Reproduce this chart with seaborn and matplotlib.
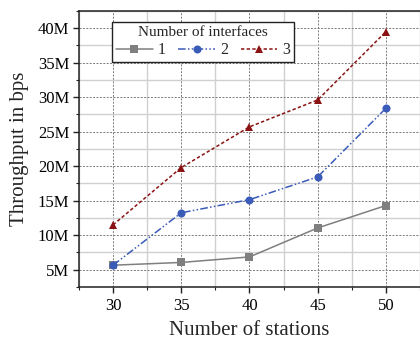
import matplotlib
matplotlib.use("Agg")
import matplotlib.pyplot as plt
import matplotlib.ticker as mticker
import seaborn as sns
import pandas as pd

stations = [30, 35, 40, 45, 50]
series_names = ["1", "2", "3"]
thr_1 = [5.65e6, 6.05e6, 6.85e6, 11.05e6, 14.3e6]
thr_2 = [5.65e6, 13.25e6, 15.15e6, 18.45e6, 28.4e6]
thr_3 = [11.5e6, 19.8e6, 25.7e6, 29.6e6, 39.5e6]
y_ticks = [5e6, 10e6, 15e6, 20e6, 25e6, 30e6, 35e6, 40e6]

rows = []
for name, vals in zip(series_names, [thr_1, thr_2, thr_3]):
    for s, v in zip(stations, vals):
        rows.append({"stations": s, "throughput": v, "interfaces": name})
df = pd.DataFrame(rows)

sns.set_style("white")
plt.rcParams['font.family'] = ['Liberation Serif', 'DejaVu Serif']

fig = plt.figure(figsize=(4.2, 3.42), dpi=100)
ax = fig.add_axes([0.188, 0.161, 0.812, 0.807])

palette = {"1": "#7f7f7f", "2": "#3a5bb8", "3": "#8b1212"}
markers = {"1": "s", "2": "o", "3": "^"}
dashes = {"1": "", "2": (5, 1.5, 1, 1.5, 1, 1.5), "3": (2.2, 1.5)}

sns.lineplot(data=df, x="stations", y="throughput", hue="interfaces",
             style="interfaces", palette=palette, markers=markers,
             dashes=dashes, linewidth=1.1, markersize=5.8,
             markeredgewidth=0, ax=ax, legend=False)

ax.set_xlim(27.5, 52.5)
ax.set_ylim(2.5e6, 42.5e6)
ax.set_xticks(stations)
ax.set_yticks(y_ticks)
ax.xaxis.set_minor_locator(mticker.MultipleLocator(2.5))
ax.yaxis.set_minor_locator(mticker.MultipleLocator(2.5e6))
ax.yaxis.set_major_formatter(mticker.FuncFormatter(lambda v, p: f"{v/1e6:.0f}M"))

ax.grid(True, which="minor", color="#d0d0d0", linewidth=1.0, linestyle="-", zorder=0)
ax.grid(True, which="major", color="#7a7a7a", linewidth=0.7, linestyle=(0, (2, 1.5)), zorder=0)
ax.set_axisbelow(True)

ax.tick_params(axis="both", which="major", direction="out", length=4, width=1,
               labelsize=12, color="#222222", labelcolor="black", pad=3,
               bottom=True, left=True)
ax.tick_params(axis="both", which="minor", direction="out", length=2.5, width=0.8,
               color="#222222", bottom=True, left=True)
ax.tick_params(axis="x", which="major", pad=4)

for side in ["left", "bottom", "top"]:
    ax.spines[side].set_visible(True)
    ax.spines[side].set_color("#222222")
    ax.spines[side].set_linewidth(1.1)
ax.spines["right"].set_visible(False)

ax.set_xlabel("Number of stations", fontsize=15, labelpad=5)
ax.set_ylabel("Throughput in bps", fontsize=15, labelpad=6)

from matplotlib.lines import Line2D
handles = []
for name in series_names:
    handles.append(Line2D([], [], color=palette[name], marker=markers[name],
                          linestyle="-" if dashes[name] == "" else (0, dashes[name]),
                          linewidth=1.1, markersize=5.8, markeredgewidth=0))
leg = ax.legend(handles, series_names, title="Number of interfaces", ncol=3,
                loc="upper left", bbox_to_anchor=(0.097, 0.96), fontsize=11.5,
                title_fontsize=11, frameon=True, fancybox=False,
                handlelength=2.3, handletextpad=0.3, columnspacing=0.8,
                borderpad=0.25, labelspacing=0.2, borderaxespad=0)
leg.get_frame().set_edgecolor("#222222")
leg.get_frame().set_linewidth(1.0)
leg.get_frame().set_alpha(1)

fig.savefig("out.png", dpi=100)
